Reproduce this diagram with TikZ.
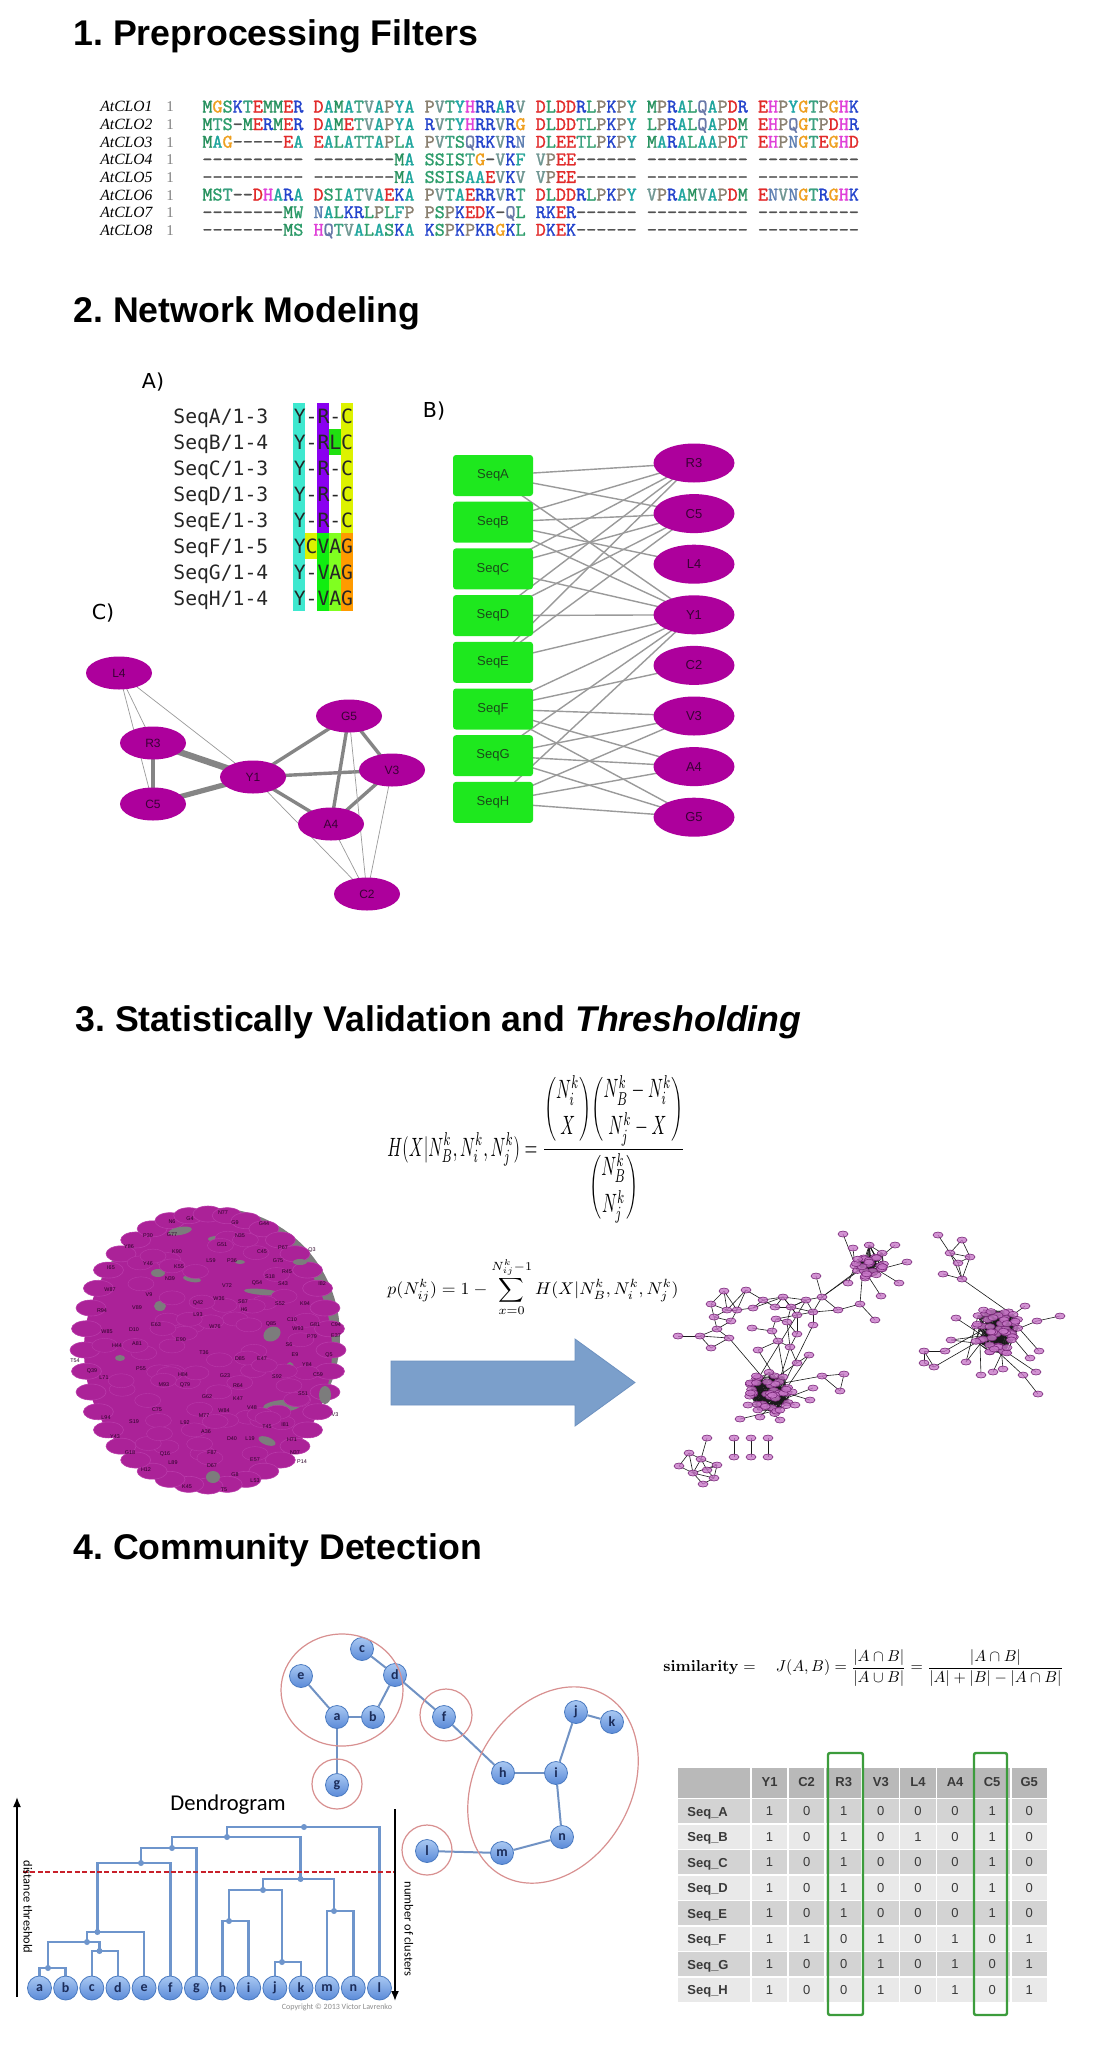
\documentclass[tikz,border=0pt]{standalone}
\usepackage[no-math]{fontspec}
\usepackage{amsmath}
\usepackage{graphicx}
\usetikzlibrary{shapes.geometric,arrows.meta}
\newfontfamily\hfont{Liberation Sans}
\newfontfamily\serf{Liberation Serif}
\newfontfamily\dvsm{DejaVu Sans Mono}
\newfontfamily\dvs{DejaVu Sans}
\newfontfamily\carl{Carlito}
\newfontfamily\almono{lmmono10-regular}[Extension=.otf,FakeBold=1.3]
\pgfdeclarelayer{bg}
\pgfdeclarelayer{edges}
\pgfsetlayers{bg,edges,main}
% amino-acid colours
\definecolor{aaA}{HTML}{1FA69E}
\definecolor{aaC}{HTML}{2E9E6C}
\definecolor{aaD}{HTML}{E22A2A}
\definecolor{aaE}{HTML}{E22A2A}
\definecolor{aaF}{HTML}{2AA69A}
\definecolor{aaG}{HTML}{EFA020}
\definecolor{aaH}{HTML}{E040D8}
\definecolor{aaI}{HTML}{2E9E6C}
\definecolor{aaK}{HTML}{2343CC}
\definecolor{aaL}{HTML}{2E9E6C}
\definecolor{aaM}{HTML}{27915E}
\definecolor{aaN}{HTML}{5E7FB2}
\definecolor{aaP}{HTML}{8A8070}
\definecolor{aaQ}{HTML}{6878A8}
\definecolor{aaR}{HTML}{2343CC}
\definecolor{aaS}{HTML}{2E9E6C}
\definecolor{aaT}{HTML}{3AA080}
\definecolor{aaV}{HTML}{6F9692}
\definecolor{aaW}{HTML}{2E9E6C}
\definecolor{aaY}{HTML}{1FA6A6}
\definecolor{aadash}{HTML}{505050}
% panel A colours
\definecolor{cY}{HTML}{3EE8CF}
\definecolor{cR}{HTML}{8A00F0}
\definecolor{cC}{HTML}{DDF200}
\definecolor{cL}{HTML}{20E010}
\definecolor{cV}{HTML}{10EE10}
\definecolor{cA}{HTML}{80FF20}
\definecolor{cG}{HTML}{FF9A00}
% network colours
\definecolor{boxgreen}{HTML}{1EE81E}
\definecolor{boxtext}{HTML}{1A4A1A}
\definecolor{mag}{HTML}{AD009C}
\definecolor{elltext}{HTML}{3A0035}
\definecolor{edgegray}{HTML}{9A9A9A}
\definecolor{thickgray}{HTML}{858585}
\definecolor{blobmag}{HTML}{AB2298}
\definecolor{blobedge}{HTML}{B93AAA}
\definecolor{gapgray}{HTML}{7C7C7C}
\definecolor{arrowblue}{HTML}{7B9FCB}
\definecolor{arrowedge}{HTML}{6D91C0}
\definecolor{tnfill}{HTML}{C878C8}
\definecolor{tnedge}{HTML}{7A2A7A}
% community colours
\definecolor{cnTop}{HTML}{A9C8F2}
\definecolor{cnBot}{HTML}{5A8AD8}
\definecolor{cnBorder}{HTML}{4A7AC0}
\definecolor{cnText}{HTML}{1C2D5A}
\definecolor{cnEdge}{HTML}{7092C4}
\definecolor{redc}{HTML}{D89090}
\definecolor{dblue}{HTML}{6E95CC}
\definecolor{redline}{HTML}{C8202A}
\definecolor{hdr}{HTML}{B9B9B9}
\definecolor{rowdk}{HTML}{D3D3D3}
\definecolor{rowlt}{HTML}{E9E9E9}
\definecolor{tabtext}{HTML}{3A3A3A}
\definecolor{tabgreen}{HTML}{3C9C3C}

\def\aarow#1{\expandafter\aaloop#1\relax}
\def\aaloop#1{\ifx\relax#1\else\aachar#1\expandafter\aaloop\fi}
\def\aachar#1{\ifx#1.\phantom{0}\else\ifx#1-\textcolor{aadash}{-}\else\textcolor{aa#1}{#1}\fi\fi}

\newcommand\mkcluster[5]{%
  \foreach \q in {1,...,#5}{%
    \pgfmathsetmacro\ang{360*rnd}%
    \pgfmathsetmacro\rad{#4*sqrt(rnd)}%
    \pgfmathsetmacro\px{#2+\rad*cos(\ang)}%
    \pgfmathsetmacro\py{#3+\rad*sin(\ang)}%
    \node[tn] (#1\q) at (\px,\py) {};}}
\newcommand\mkcedges[3]{%
  \foreach \q in {1,...,#2}{\foreach \w in {1,...,#3}{%
    \pgfmathtruncatemacro\tgt{random(1,#2)}%
    \draw[te] (#1\q.center) -- (#1\tgt.center);}}}

\tikzset{
  head/.style={anchor=base west,inner sep=0,font=\hfont\bfseries\frenchspacing\fontsize{17.85}{20}\selectfont},
  aaname/.style={anchor=base west,inner sep=0,font=\serf\itshape\fontsize{7.8}{8}\selectfont},
  aaone/.style={anchor=base,inner sep=0,text=gray,font=\serf\fontsize{7.5}{8}\selectfont},
  aaseq/.style={anchor=base west,inner sep=0,font=\almono\fontsize{9.62}{10}\selectfont},
  plab/.style={inner sep=0,font=\dvs\fontsize{10.3}{12}\selectfont},
  aname/.style={anchor=base west,inner sep=0,text=black!85,font=\dvsm\fontsize{9.85}{11}\selectfont},
  gbox/.style={rectangle,rounded corners=1.5pt,fill=boxgreen,minimum width=40pt,minimum height=20.5pt,inner sep=0,text=boxtext,font=\hfont\fontsize{6.5}{7}\selectfont},
  mell/.style={ellipse,fill=mag,minimum width=40.5pt,minimum height=19.5pt,inner sep=0,text=elltext,font=\hfont\fontsize{6.5}{7}\selectfont},
  cell/.style={ellipse,fill=mag,minimum width=33pt,minimum height=16.5pt,inner sep=0,text=elltext,font=\hfont\fontsize{6}{7}\selectfont},
  bedge/.style={draw=edgegray,line width=0.7pt},
  thin/.style={draw=edgegray,line width=0.35pt},
  tn/.style={ellipse,minimum width=5pt,minimum height=3pt,inner sep=0,fill=tnfill,fill opacity=0.8,draw=tnedge,line width=0.3pt},
  te/.style={draw=black!90,line width=0.3pt},
  blab/.style={inner sep=0,text=black!75!mag,font=\hfont\fontsize{2.7}{3}\selectfont},
  cn/.style={circle,minimum size=11.5pt,inner sep=0,top color=cnTop,bottom color=cnBot,draw=cnBorder,line width=0.4pt,text=cnText,font=\carl\bfseries\fontsize{7}{8}\selectfont},
  ce/.style={draw=cnEdge,line width=1pt},
  redring/.style={draw=redc,line width=0.6pt},
  dl/.style={draw=dblue,line width=1.25pt},
  axlab/.style={inner sep=0,font=\carl\fontsize{6.2}{7}\selectfont},
  thd/.style={inner sep=0,text=tabtext,font=\hfont\bfseries\fontsize{6.5}{7}\selectfont},
  tlab/.style={anchor=base west,inner sep=0,text=tabtext,font=\hfont\bfseries\fontsize{6.5}{7}\selectfont},
  tval/.style={inner sep=0,text=tabtext,font=\hfont\fontsize{6.5}{7}\selectfont}
}

\begin{document}
\begin{tikzpicture}[x=0.5pt,y=-0.5pt]
\useasboundingbox (0,0) rectangle (1110,2050);
\begin{pgfonlayer}{bg}
\fill[white] (0,0) rectangle (1110,2050);
\end{pgfonlayer}

% ---------------- headings
\node[head] (h1) at (73,46) {1. Preprocessing Filters};
\node[head] (h2) at (73,322) {2. Network Modeling};
\node[head] (h3) at (75,1031) {3. Statistically Validation and \textit{Thresholding}};
\node[head] (h4) at (73,1559) {4. Community Detection};

% ---------------- 1. alignment
\foreach \nm/\sq [count=\r from 0] in {
 AtCLO1/MGSKTEMMER.DAMATVAPYA.PVTYHRRARV.DLDDRLPKPY.MPRALQAPDR.EHPYGTPGHK,
 AtCLO2/MTS-MERMER.DAMETVAPYA.RVTYHRRVRG.DLDDTLPKPY.LPRALQAPDM.EHPQGTPDHR,
 AtCLO3/MAG-----EA.EALATTAPLA.PVTSQRKVRN.DLEETLPKPY.MARALAAPDT.EHPNGTEGHD,
 AtCLO4/----------.--------MA.SSISTG-VKF.VPEE------.----------.----------,
 AtCLO5/----------.--------MA.SSISAAEVKV.VPEE------.----------.----------,
 AtCLO6/MST--DHARA.DSIATVAEKA.PVTAERRVRT.DLDDRLPKPY.VPRAMVAPDM.ENVNGTRGHK,
 AtCLO7/--------MW.NALKRLPLFP.PSPKEDK-QL.RKER------.----------.----------,
 AtCLO8/--------MS.HQTVALASKA.KSPKPKRGKL.DKEK------.----------.----------}{
  \node[aaname] (nm\r) at (100,{112+17.6*\r}) {\nm};
  \node[aaone] (one\r) at (170,{112+17.6*\r}) {1};
  \node[aaseq] (sq\r) at (202,{112.5+17.6*\r}) {\aarow{\sq}};
}

% ---------------- 2A alignment
\node[plab] (lA) at (153,382) {A)};
\node[plab] (lB) at (434,411) {B)};
\node[plab] (lC) at (103,613) {C)};
\fill[cY] (293,403) rectangle (305,611);
\fill[cC] (305,533) rectangle (317,559);
\fill[cR] (317,403) rectangle (329,533);
\fill[cV] (317,533) rectangle (329,611);
\fill[cL] (329,429) rectangle (341,455);
\fill[cA] (329,533) rectangle (341,611);
\fill[cC] (341,403) rectangle (353,533);
\fill[cG] (341,533) rectangle (353,611);
\foreach \x/\y/\s [count=\r from 0] in {A/3/Y-R-C,B/4/Y-RLC,C/3/Y-R-C,D/3/Y-R-C,E/3/Y-R-C,F/5/YCVAG,G/4/Y-VAG,H/4/Y-VAG}{
  \node[aname] (an\x) at (173,{423.2+26*\r}) {Seq\x/1-\y};
  \node[aname] (al\x) at (293.4,{423.2+26*\r}) {\s};
}

% ---------------- 2B bipartite
\foreach \s [count=\i from 0] in {A,B,C,D,E,F,G,H}
  \node[gbox] (Bs\s) at (493,{475.5+46.7*\i}) {Seq\s};
\foreach \s [count=\i from 0] in {R3,C5,L4,Y1,C2,V3,A4,G5}
  \node[mell] (Br\s) at (694,{463+50.6*\i}) {\s};
\begin{pgfonlayer}{edges}
\foreach \a/\b in {A/Y1,A/R3,A/C5,B/Y1,B/R3,B/L4,B/C5,C/Y1,C/R3,C/C5,D/Y1,D/R3,D/C5,E/Y1,E/R3,E/C5,
  F/Y1,F/C2,F/V3,F/A4,F/G5,G/Y1,G/V3,G/A4,G/G5,H/Y1,H/V3,H/A4,H/G5}
  \draw[bedge] (Bs\a.center) -- (Br\b.center);
\end{pgfonlayer}

% ---------------- 2C co-occurrence network
\node[cell] (CL4) at (119,673) {L4};
\node[cell] (CR3) at (153,743) {R3};
\node[cell] (CC5) at (153,804) {C5};
\node[cell] (CY1) at (253,777) {Y1};
\node[cell] (CG5) at (349,716) {G5};
\node[cell] (CV3) at (392,770) {V3};
\node[cell] (CA4) at (331,824) {A4};
\node[cell] (CC2) at (367,894) {C2};
\begin{pgfonlayer}{edges}
\draw[draw=thickgray,line width=3.2pt] (CR3.center) -- (CY1.center);
\draw[draw=thickgray,line width=2.6pt] (CC5.center) -- (CY1.center);
\draw[draw=thickgray,line width=2.4pt] (CR3.center) -- (CC5.center);
\foreach \a/\b in {Y1/G5,Y1/V3,Y1/A4,G5/A4,G5/V3,V3/A4}
  \draw[draw=thickgray,line width=1.7pt] (C\a.center) -- (C\b.center);
\foreach \a/\b in {L4/R3,L4/C5,L4/Y1,Y1/C2,A4/C2,G5/C2,V3/C2}
  \draw[thin] (C\a.center) -- (C\b.center);
\end{pgfonlayer}

% ---------------- 3 formulas
\node[anchor=north west,inner sep=0] (fH) at (387,1075) {\resizebox*{149pt}{74pt}{$\displaystyle H(X|N^k_B,N^k_i,N^k_j)=\frac{\dbinom{N^k_i}{X}\dbinom{N^k_B-N^k_i}{N^k_j-X}}{\dbinom{N^k_B}{N^k_j}}$}};
\node[anchor=north west,inner sep=0] (fp) at (387,1257) {\resizebox*{145.5pt}{29.5pt}{$\displaystyle p(N^k_{ij})=1-\sum_{x=0}^{N^k_{ij}-1}H(X|N^k_B,N^k_i,N^k_j)$}};

% ---------------- 3 blob (dense network)
\fill[gapgray] (214,1336) ellipse [x radius=126, y radius=128];
\fill[blobmag] (208,1350) ellipse [x radius=124, y radius=137];
\pgfmathsetseed{7}
\foreach \a in {0,9,...,351}
  \filldraw[fill=blobmag,draw=blobedge,line width=0.3pt] ({208+123*cos(\a)},{1350+136*sin(\a)}) ellipse [x radius=15, y radius=8];
\foreach \gx/\gy/\grx/\gry/\gr in {180/1231/12/4/10,217/1239/9/3/0,158/1273/7/4/0,192/1279/9/3/-10,262/1292/18/3/-5,
  160/1306/6/5/0,272/1334/9/7/30,290/1368/4/6/0,282/1406/19/6/5,213/1477/7/6/0,267/1441/9/4/-20,325/1395/6/9/0,
  300/1262/7/3/0,240/1262/5/2/0,120/1358/5/3/0,150/1400/6/2/0}
  \fill[gapgray,rotate around={\gr:(\gx,\gy)}] (\gx,\gy) ellipse [x radius=\grx, y radius=\gry];
\foreach \k in {1,...,70}{
  \pgfmathsetmacro\ang{360*rnd}
  \pgfmathsetmacro\rad{sqrt(rnd)}
  \filldraw[fill=blobmag,draw=blobedge,line width=0.2pt] ({208+105*\rad*cos(\ang)},{1350+118*\rad*sin(\ang)}) ellipse [x radius=13, y radius=7];
}
\foreach \lx/\ly/\lt in {223/1213/N77,172/1222/N6,190/1219/G4,235/1223/G9,264/1224/G44,148/1236/P30,172/1235/G77,
  240/1236/N35,129/1247/Y86,177/1252/K90,222/1245/G51,283/1248/P67,312/1250/Q3,262/1252/C45,111/1268/I65,
  148/1264/Y46,179/1267/K55,211/1261/L59,232/1261/P36,278/1261/G75,287/1272/R45,170/1279/N39,270/1277/S18,
  110/1290/W87,149/1295/V9,227/1286/V72,257/1283/Q54,283/1284/S43,322/1284/I82,102/1311/R94,137/1308/V89,
  198/1303/Q42,219/1299/W36,243/1302/S87,280/1304/S52,305/1304/K94,198/1315/L93,244/1310/H6,292/1320/C10,
  107/1332/W85,134/1330/D10,156/1325/E63,215/1327/W76,271/1324/Q85,298/1329/W93,315/1325/G81,336/1325/C94,
  312/1337/P79,336/1336/E37,117/1346/H44,137/1344/A81,181/1340/E90,289/1345/S6,75/1361/T54,204/1353/T36,
  240/1359/D85,262/1359/E47,295/1355/E9,307/1365/Y84,329/1355/Q5,92/1371/Q39,141/1369/P55,183/1375/H84,
  225/1376/G23,277/1377/S92,318/1375/C59,104/1378/L71,164/1385/M93,185/1385/Q79,238/1386/R64,303/1394/S51,
  207/1397/G62,238/1399/K47,157/1410/C75,252/1408/V48,224/1411/W84,106/1418/L94,134/1422/S19,204/1416/M77,
  285/1425/I81,335/1415/V3,185/1423/L92,267/1427/T45,115/1437/Y43,206/1432/A36,232/1439/D40,250/1439/L19,
  292/1440/H71,130/1453/G18,165/1454/Q16,212/1453/F87,295/1453/N37,255/1460/E57,173/1463/L89,302/1462/P14,
  146/1470/H12,212/1466/D67,235/1475/G8,255/1481/L53,187/1487/K45,224/1490/T5}
  \node[blab] at (\lx,\ly) {\lt};

% ---------------- 3 arrow
\filldraw[fill=arrowblue,draw=arrowedge,line width=0.4pt] (391,1361) -- (575,1361) -- (575,1339) -- (635,1382.5) -- (575,1426) -- (575,1405) -- (391,1405) -- cycle;

% ---------------- 3 thresholded network
\pgfmathsetseed{4242}
\mkcluster{CT}{870}{1262}{17}{28}
\mkcluster{CB}{770}{1393}{23}{44}
\mkcluster{CR}{997}{1330}{25}{50}
\foreach \px/\py [count=\k] in {843/1234,907/1262,899/1283,881/1296,848/1283,816/1276,822/1297,838/1310,860/1304,875/1320,895/1245,853/1248}
  \node[tn] (Tp\k) at (\px,\py) {};
\foreach \px/\py [count=\k] in {740/1419,822/1376,844/1374,840/1391,813/1388,810/1400,795/1405,780/1420,760/1417,748/1405}
  \node[tn] (Bp\k) at (\px,\py) {};
\foreach \px/\py [count=\k] in {938/1235,962/1240,950/1253,970/1257,958/1263,943/1274,962/1279,956/1318,951/1340,945/1351,
  924/1351,924/1363,934/1367,966/1362,981/1375,993/1372,1003/1369,1023/1375,1036/1372,1038/1394,1030/1358,1039/1351,1037/1321,1060/1316,1025/1306}
  \node[tn] (Rp\k) at (\px,\py) {};
\foreach \px/\py [count=\k] in {724/1291,746/1290,711/1304,727/1310,737/1310,753/1308,763/1300,775/1307,783/1297,791/1307,
  797/1315,806/1300,813/1312,714/1317,731/1321,700/1336,678/1336,711/1348,729/1338,717/1329,752/1328,772/1331,776/1319,
  787/1322,797/1334,778/1341,790/1347,758/1350,813/1325,809/1355,797/1363}
  \node[tn] (M\k) at (\px,\py) {};
\foreach \px/\py [count=\k] in {707/1438,689/1453,701/1459,679/1466,693/1473,717/1465,714/1478,703/1484,707/1470}
  \node[tn] (S\k) at (\px,\py) {};
\foreach \px [count=\k] in {734,751,768}{
  \node[tn] (Pa\k) at (\px,1438) {};
  \node[tn] (Pb\k) at (\px,1457) {};
}
\begin{pgfonlayer}{edges}
\mkcedges{CT}{28}{6}
\mkcedges{CB}{44}{7}
\mkcedges{CR}{50}{7}
\foreach \a/\b in {Tp1/CT3,Tp2/CT5,Tp3/CT7,Tp4/CT9,Tp5/CT11,Tp6/Tp7,Tp7/CT2,Tp7/CT13,Tp7/M13,Tp7/M12,Tp7/Tp8,
  Tp8/Tp9,Tp8/M13,Tp9/CT4,Tp9/Tp10,Tp11/CT6,Tp12/CT8,
  Bp1/CB1,Bp2/CB2,Bp2/Bp3,Bp3/Bp4,Bp4/Bp2,Bp5/CB3,Bp6/CB4,Bp7/CB5,Bp8/CB6,Bp9/CB7,Bp10/CB8,
  Rp1/Rp3,Rp2/Rp3,Rp2/Rp4,Rp3/Rp4,Rp3/Rp5,Rp4/Rp5,Rp5/Rp7,Rp3/Rp7,Rp4/Rp7,Rp6/Rp7,Rp7/CR1,Rp8/CR2,Rp9/CR3,Rp10/CR4,
  Rp10/Rp11,Rp11/Rp12,Rp11/Rp13,Rp12/Rp13,Rp13/CR5,Rp14/CR6,Rp15/CR7,Rp16/CR8,Rp17/CR9,Rp18/CR10,Rp19/CR11,
  Rp20/Rp18,Rp21/CR12,Rp22/CR13,Rp23/CR14,Rp24/Rp23,Rp25/CR15,Rp9/CR16,Rp14/CR17,
  M1/M3,M1/M4,M1/M5,M2/M4,M2/M5,M3/M4,M3/M14,M4/M5,M4/M14,M14/M15,M5/M15,M14/M20,M15/M20,M16/M17,M16/M20,
  M16/M18,M18/M19,M19/M20,M16/M19,M5/M6,M6/M7,M7/M8,M7/M9,M8/M9,M6/M9,M9/M10,M10/M11,M9/M12,M10/M12,M11/M12,
  M12/M13,M11/M13,M10/M13,M8/M10,M11/M23,M23/M24,M10/M24,M24/M25,M11/M25,M13/M29,M22/M23,M21/M22,M26/M27,
  M24/M27,M25/M27,M26/M22,M28/M26,M27/M31,M30/M31,M2/M7,M9/M11,M12/M10,
  M19/CB9,M26/CB10,M27/CB11,M31/CB12,M29/CB13,M30/CB14,M28/CB15,M11/CB16,
  S1/S3,S2/S3,S2/S4,S3/S5,S3/S6,S4/S5,S5/S6,S5/S7,S5/S8,S6/S7,S7/S8,S9/S6,S9/S3,S9/S7,S2/S5,
  Pa1/Pb1,Pa2/Pb2,Pa3/Pb3}
  \draw[te] (\a.center) -- (\b.center);
\end{pgfonlayer}

% ---------------- 4 community graph
\node[cn] (Gc) at (362,1649) {c};
\node[cn] (Ge) at (301,1676) {e};
\node[cn] (Gd) at (395,1675) {d};
\node[cn] (Ga) at (337,1717) {a};
\node[cn] (Gb) at (373,1717) {b};
\node[cn] (Gf) at (444,1717) {f};
\node[cn] (Gg) at (337,1785) {g};
\node[cn] (Gj) at (576,1712) {j};
\node[cn] (Gk) at (612,1722) {k};
\node[cn] (Gh) at (503,1773) {h};
\node[cn] (Gi) at (556,1773) {i};
\node[cn] (Gn) at (562,1837) {n};
\node[cn] (Gm) at (502,1853) {m};
\node[cn] (Gl) at (427,1851) {l};
\begin{pgfonlayer}{edges}
\foreach \a/\b in {c/d,e/a,a/b,b/d,a/g,d/f,f/h,h/i,i/j,j/k,i/n,n/m,m/l}
  \draw[ce] (G\a) -- (G\b);
\end{pgfonlayer}
\draw[redring] (342,1690) ellipse [x radius=61, y radius=56];
\draw[redring] (446,1715) circle [radius=26];
\draw[redring] (337,1784) circle [radius=25];
\draw[redring] (427,1850) circle [radius=25];
\draw[redring,rotate around={60:(553,1785)}] (553,1785) ellipse [x radius=104, y radius=78];

% ---------------- 4 dendrogram
\node[inner sep=0,font=\carl\fontsize{11.3}{13}\selectfont] (dtitle) at (228,1805) {Dendrogram};
\foreach \s [count=\i from 0] in {a,b,c,d,e,f,g,h,i,j,k,m,n,l}
  \node[cn,minimum size=12pt] (D\s) at ({39.5+26.15*\i},1988) {\s};
\coordinate (Jab) at (48,1968);
\coordinate (Jcd) at (99.5,1951);
\coordinate (Jabcd) at (87,1942);
\coordinate (Jabcde) at (97.4,1932);
\coordinate (Jf) at (141,1863);
\coordinate (Jg) at (172,1848);
\coordinate (Jhi) at (229,1921);
\coordinate (Jjk) at (282,1962);
\coordinate (Jhijk) at (263,1890);
\coordinate (Jmn) at (334,1911);
\coordinate (Jhn) at (300.6,1879);
\coordinate (Jag) at (227,1837);
\coordinate (Jall) at (304,1827);
\begin{pgfonlayer}{edges}
\draw[dl] (Da.north) |- (Jab) -| (Db.north);
\draw[dl] (Dc.north) |- (Jcd) -| (Dd.north);
\draw[dl] (Jab) |- (Jabcd) -| (Jcd);
\draw[dl] (Jabcd) |- (Jabcde) -| (De.north);
\draw[dl] (Jabcde) |- (Jf) -| (Df.north);
\draw[dl] (Jf) |- (Jg) -| (Dg.north);
\draw[dl] (Dh.north) |- (Jhi) -| (Di.north);
\draw[dl] (Dj.north) |- (Jjk) -| (Dk.north);
\draw[dl] (Jhi) |- (Jhijk) -| (Jjk);
\draw[dl] (Dm.north) |- (Jmn) -| (Dn.north);
\draw[dl] (Jhijk) |- (Jhn) -| (Jmn);
\draw[dl] (Jg) |- (Jag) -| (Jhn);
\draw[dl] (Jag) |- (Jall) -| (Dl.north);
\end{pgfonlayer}
\foreach \j in {Jab,Jcd,Jabcd,Jabcde,Jf,Jg,Jhi,Jjk,Jhijk,Jmn,Jhn,Jag,Jall}
  \fill[dblue] (\j) circle [radius=3];
\coordinate (rl0) at (23,1872);
\coordinate (rl1) at (394,1872);
\draw[redline,line width=1.3pt,dash pattern=on 2.5pt off 1.2pt] (rl0) -- (rl1);
\coordinate (al0) at (17,1997);
\coordinate (al1) at (17,1797);
\draw[line width=0.8pt,-{Latex[length=5pt,width=4pt]}] (al0) -- (al1);
\coordinate (ar0) at (395,1809);
\coordinate (ar1) at (395,2001);
\draw[line width=0.8pt,-{Latex[length=5pt,width=4pt]}] (ar0) -- (ar1);
\node[axlab,rotate=-90] (dthr) at (28,1907) {distance threshold};
\node[axlab,rotate=-90] (ncl) at (409,1929) {number of clusters};
\node[inner sep=0,text=black!45,font=\carl\fontsize{4}{5}\selectfont] (copy) at (337,2007) {Copyright \textcopyright{} 2013 Victor Lavrenko};

% ---------------- 4 similarity formula
\node[anchor=west,inner sep=0] (fsim) at (663,1668) {\resizebox{200pt}{!}{$\mathbf{similarity} = \quad J(A,B)=\dfrac{|A\cap B|}{|A\cup B|}=\dfrac{|A\cap B|}{|A|+|B|-|A\cap B|}$}};

% ---------------- 4 table
\fill[hdr,draw=white,line width=0.8pt] (677,1767) rectangle (1048,1798.5);
\foreach \h [count=\c from 0] in {Y1,C2,R3,V3,L4,A4,C5,G5}
  \node[thd] (th\c) at ({769.55+37.1*\c},1782.5) {\h};
\foreach \s/\va/\vb/\vc/\vd/\ve/\vf/\vg/\vh [count=\r from 0] in {A/1/0/1/0/0/0/1/0,B/1/0/1/0/1/0/1/0,C/1/0/1/0/0/0/1/0,
  D/1/0/1/0/0/0/1/0,E/1/0/1/0/0/0/1/0,F/1/1/0/1/0/1/0/1,G/1/0/0/1/0/1/0/1,H/1/0/0/1/0/1/0/1}{
  \ifodd\r\relax\def\rc{rowlt}\else\def\rc{rowdk}\fi
  \fill[\rc,draw=white,line width=0.8pt] (677,{1798.5+25.5*\r}) rectangle (1048,{1824+25.5*\r});
  \node[tlab] (tl\s) at (687,{1816+25.5*\r}) {Seq\_\s};
  \foreach \v [count=\k from 0] in {\va,\vb,\vc,\vd,\ve,\vf,\vg,\vh}
    \node[tval] (tv\s\k) at ({769.55+37.1*\k},{1811.5+25.5*\r}) {\v};
}
\foreach \k in {0,...,7}
  \draw[white,line width=0.9pt] ({751+37.1*\k},1767) -- ({751+37.1*\k},2002);
\draw[tabgreen,line width=1.2pt,rounded corners=1pt] (828,1753) rectangle (863,2015);
\draw[tabgreen,line width=1.2pt,rounded corners=1pt] (974,1753) rectangle (1007,2015);
\end{tikzpicture}
\end{document}
